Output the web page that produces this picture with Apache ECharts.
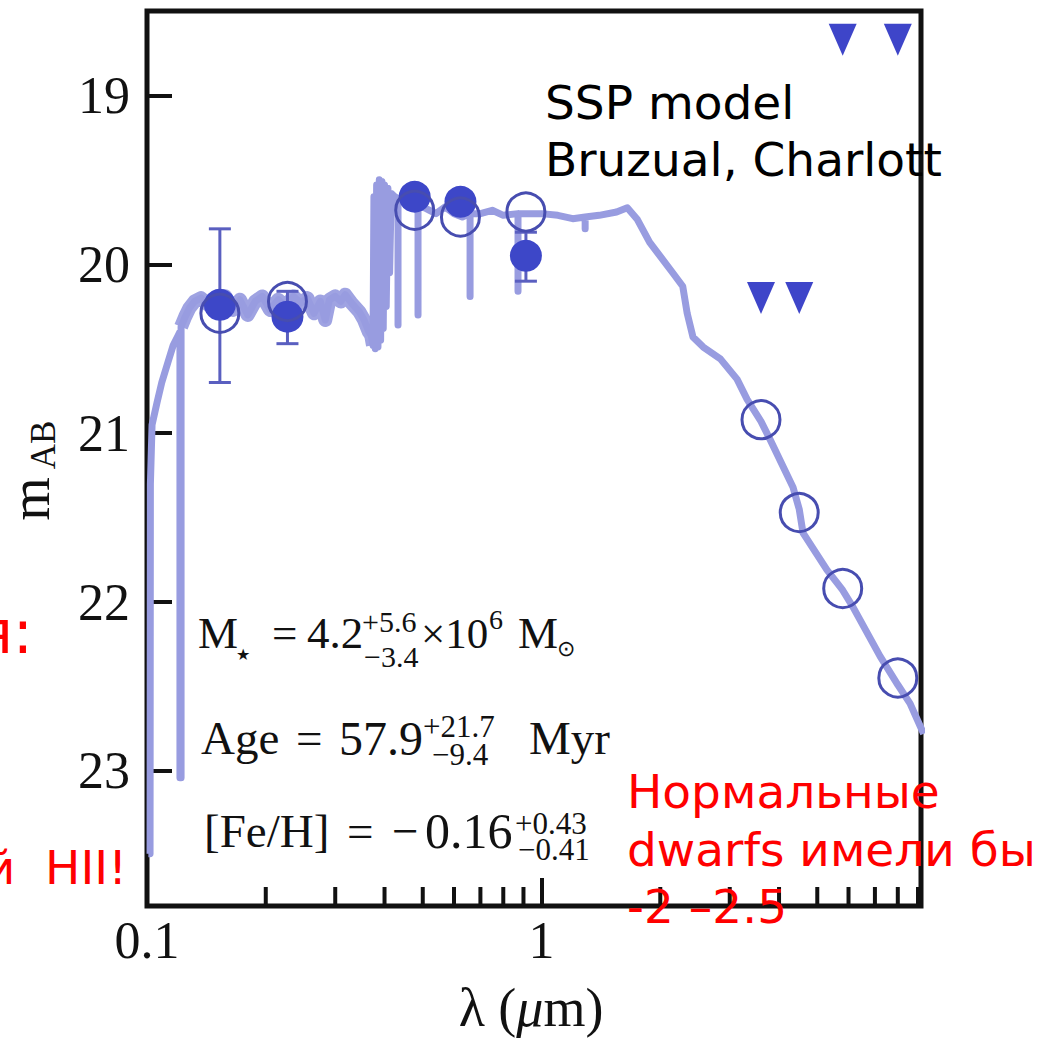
<!DOCTYPE html>
<html>
<head>
<meta charset="utf-8">
<script src="https://cdn.jsdelivr.net/npm/echarts@6/dist/echarts.min.js"></script>
<style>
html, body { margin: 0; padding: 0; background: #fff; }
#main { width: 1056px; height: 1038px; }
</style>
</head>
<body>
<div id="main"></div>
<script>
// model SED (SSP, Bruzual & Charlot), wavelength in micron / AB mag
var specLam = [0.1008, 0.1018, 0.1020, 0.1030, 0.1060, 0.1090, 0.1130, 0.1165, 0.1200, 0.1212, 0.1212, 0.1220, 0.1220,
  0.1250, 0.1280, 0.1320, 0.1370, 0.1430, 0.1500, 0.1580, 0.1650, 0.1720, 0.1800, 0.1880, 0.1960, 0.2050,
  0.2150, 0.2250, 0.2350, 0.2450, 0.2550, 0.2650, 0.2750, 0.2830, 0.2900, 0.3000, 0.3100, 0.3180, 0.3300,
  0.3450, 0.3550, 0.3650, 0.3700, 0.3740, 0.3760, 0.3790, 0.3820, 0.3850, 0.3880, 0.3910, 0.3940, 0.3970,
  0.4000, 0.4040, 0.4080, 0.4120, 0.4160, 0.4250, 0.4328, 0.4328, 0.4328, 0.4500, 0.4700, 0.4864, 0.4864,
  0.4864, 0.5100, 0.5400, 0.5700, 0.6000, 0.6300, 0.6590, 0.6590, 0.6590, 0.7000, 0.7500, 0.8000, 0.8718,
  0.8718, 0.8718, 0.9300, 1.0000, 1.1000, 1.2000, 1.2900, 1.2900, 1.2900, 1.4000, 1.5500, 1.6500, 1.7500,
  1.8800, 2.1500, 2.2800, 2.3400, 2.4200, 2.5700, 2.8400, 3.1300, 3.3200, 3.6000, 3.8000, 4.3400, 4.5000,
  4.6000, 5.2900, 5.8000, 6.1600, 7.2100, 8.0000, 8.5900, 9.3000];
var specMag = [23.49, 23.49, 21.30, 20.95, 20.82, 20.70, 20.58, 20.48, 20.42, 20.40, 23.04, 23.04, 20.37,
  20.31, 20.26, 20.22, 20.20, 20.24, 20.21, 20.19, 20.27, 20.21, 20.30, 20.22, 20.19, 20.27,
  20.21, 20.25, 20.19, 20.23, 20.20, 20.29, 20.22, 20.33, 20.21, 20.19, 20.22, 20.18, 20.23,
  20.28, 20.33, 20.40, 20.42, 20.48, 19.60, 20.50, 19.53, 20.49, 19.50, 20.45, 19.51, 20.38,
  19.53, 20.25, 19.55, 20.05, 19.58, 19.60, 19.61, 20.36, 19.61, 19.62, 19.64, 19.65, 20.30,
  19.65, 19.67, 19.70, 19.66, 19.70, 19.72, 19.70, 20.19, 19.70, 19.70, 19.68, 19.71, 19.70,
  20.16, 19.70, 19.70, 19.70, 19.71, 19.73, 19.72, 19.79, 19.72, 19.71, 19.69, 19.665, 19.735,
  19.87, 20.05, 20.13, 20.29, 20.43, 20.49, 20.56, 20.68, 20.80, 20.93, 21.04, 21.32, 21.45,
  21.59, 21.81, 21.93, 22.03, 22.32, 22.49, 22.60, 22.78];
// the UV part of the model is drawn as a wider band
var uvBandEnd = 0.3740;

// observed photometry (filled circles)
var obsLam = [0.153, 0.227, 0.477, 0.623, 0.913];
var obsMag = [20.24, 20.31, 19.60, 19.63, 19.95];
// error bars
var errLam = [0.153, 0.227, 0.913];
var errLo = [19.79, 20.16, 19.81];
var errHi = [20.70, 20.47, 20.10];
// model photometry (open circles)
var modelLam = [0.153, 0.227, 0.477, 0.623, 0.913, 3.6, 4.5, 5.8, 8.0];
var modelMag = [20.29, 20.22, 19.68, 19.72, 19.69, 20.92, 21.47, 21.92, 22.45];
// upper limits (triangles)
var limLam = [3.6, 4.5, 5.8, 8.0];
var limMag = [20.20, 20.20, 18.67, 18.67];
// x minor ticks
var minorTicks = [0.2, 0.3, 0.4, 0.5, 0.6, 0.7, 0.8, 0.9, 2, 3, 4, 5, 6, 7, 8, 9];
var xTickLabels = ['0.1', '1'];

var SERIF = 'Liberation Serif';
var SANS = 'DejaVu Sans';

function pairs(a, b) {
  return a.map(function (v, i) { return [v, b[i]]; });
}

// text helper for annotations
function txt(x, y, s, size, opts) {
  opts = opts || {};
  return {
    type: 'text',
    x: x,
    y: y,
    rotation: opts.rotation || 0,
    z: 100,
    style: {
      text: s,
      fontSize: size,
      fontFamily: opts.family || SERIF,
      fontStyle: opts.italic ? 'italic' : 'normal',
      fill: opts.color || '#111',
      align: opts.align || 'left',
      textAlign: opts.align || 'left',
      verticalAlign: 'middle',
      textVerticalAlign: 'middle',
      rich: opts.rich
    }
  };
}

var uvBand = pairs(specLam, specMag).filter(function (p, i) {
  return specLam[i] >= 0.1220 && specLam[i] <= uvBandEnd && i > 11;
});

var myChart = echarts.init(document.getElementById('main'), null, { renderer: 'svg' });

var option = {
  animation: false,
  backgroundColor: '#fff',
  grid: {
    left: 147,
    top: 11,
    width: 774,
    height: 895,
    show: true,
    borderColor: '#111',
    borderWidth: 5,
    containLabel: false,
    outerBoundsMode: 'none'
  },
  xAxis: {
    type: 'log',
    logBase: 10,
    min: 0.1,
    max: 9.16,
    axisLine: { show: false },
    splitLine: { show: false },
    axisTick: { show: true, inside: true, length: 28, lineStyle: { color: '#111', width: 4 } },
    axisLabel: {
      margin: 8,
      fontSize: 52,
      fontFamily: SERIF,
      color: '#111',
      showMaxLabel: false,
      formatter: function (v) {
        if (Math.abs(v - 0.1) < 1e-6) return xTickLabels[0];
        if (Math.abs(v - 1) < 1e-6) return xTickLabels[1];
        return '';
      }
    }
  },
  yAxis: {
    type: 'value',
    inverse: true,
    min: 18.5,
    max: 23.8,
    minInterval: 1,
    maxInterval: 1,
    axisLine: { show: false },
    splitLine: { show: false },
    axisTick: { show: true, inside: true, length: 25, lineStyle: { color: '#111', width: 4 } },
    axisLabel: {
      margin: 17,
      fontSize: 52,
      fontFamily: SERIF,
      color: '#111',
      formatter: function (v) {
        return Math.abs(v - Math.round(v)) < 1e-6 ? String(Math.round(v)) : '';
      }
    }
  },
  series: [
    {
      name: 'spectrum band',
      type: 'line',
      data: uvBand,
      showSymbol: false,
      symbol: 'none',
      lineStyle: { color: '#9fa3e2', width: 14, join: 'round' },
      z: 1
    },
    {
      name: 'spectrum',
      type: 'line',
      data: pairs(specLam, specMag),
      showSymbol: false,
      symbol: 'none',
      lineStyle: { color: '#989ce0', width: 7, join: 'round' },
      z: 2
    },
    {
      name: 'errors',
      type: 'custom',
      data: errLam.map(function (l, i) { return [l, errLo[i], errHi[i]]; }),
      encode: { x: 0, y: [1, 2] },
      z: 3,
      renderItem: function (params, api) {
        var top = api.coord([api.value(0), api.value(1)]);
        var bot = api.coord([api.value(0), api.value(2)]);
        var hw = 11;
        var st = { stroke: '#5a5fc0', lineWidth: 3 };
        return {
          type: 'group',
          children: [
            { type: 'line', shape: { x1: top[0], y1: top[1], x2: bot[0], y2: bot[1] }, style: st },
            { type: 'line', shape: { x1: top[0] - hw, y1: top[1], x2: top[0] + hw, y2: top[1] }, style: st },
            { type: 'line', shape: { x1: bot[0] - hw, y1: bot[1], x2: bot[0] + hw, y2: bot[1] }, style: st }
          ]
        };
      }
    },
    {
      name: 'observed',
      type: 'scatter',
      data: pairs(obsLam, obsMag),
      symbol: 'circle',
      symbolSize: 32,
      itemStyle: { color: '#3d47c8', opacity: 1 },
      z: 4
    },
    {
      name: 'model',
      type: 'scatter',
      data: pairs(modelLam, modelMag),
      symbol: 'circle',
      symbolSize: 38,
      itemStyle: { color: 'rgba(0,0,0,0)', borderColor: '#474db0', borderWidth: 3, opacity: 1 },
      z: 5
    },
    {
      name: 'limits',
      type: 'scatter',
      data: pairs(limLam, limMag),
      symbol: 'triangle',
      symbolRotate: 180,
      symbolSize: [28, 32],
      itemStyle: { color: '#3e45c9', opacity: 1 },
      z: 5
    },
    {
      name: 'minorTicks',
      type: 'custom',
      data: minorTicks.map(function (v) { return [v, 23.8]; }),
      encode: { x: 0, y: 1 },
      clip: false,
      z: 10,
      renderItem: function (params, api) {
        var p = api.coord([api.value(0), api.value(1)]);
        return {
          type: 'line',
          shape: { x1: p[0], y1: p[1], x2: p[0], y2: p[1] - 19 },
          style: { stroke: '#111', lineWidth: 4 }
        };
      }
    }
  ],
  graphic: [
    // axis names
    txt(531, 1008, '{n|λ (}{i|μ}{n|m)}', 54, {
      align: 'center',
      rich: {
        n: { fontSize: 54, fontFamily: SERIF, color: '#111' },
        i: { fontSize: 54, fontFamily: SERIF, fontStyle: 'italic', color: '#111' }
      }
    }),
    txt(30, 499, 'm', 56, { align: 'center', rotation: Math.PI / 2 }),
    txt(43, 445, 'AB', 35, { align: 'center', rotation: Math.PI / 2 }),

    // model note
    txt(545, 102, 'SSP model', 47, { family: SANS, color: '#000' }),
    txt(545, 159, 'Bruzual, Charlott', 47, { family: SANS, color: '#000' }),

    // fit results
    txt(198, 633, 'M', 45),
    txt(236, 654, '★', 16),
    txt(272, 633, '=', 45),
    txt(307, 633, '4.2', 45),
    txt(362, 621, '+5.6', 30),
    txt(364, 656, '−3.4', 30),
    txt(421, 633, '×10', 43),
    txt(489, 619, '6', 28),
    txt(518, 633, 'M', 45),
    txt(557, 648, '⊙', 22),

    txt(201, 738, 'Age', 47),
    txt(296, 738, '=', 47),
    txt(339, 738, '57.9', 48),
    txt(423, 726, '+21.7', 31),
    txt(432, 754, '−9.4', 31),
    txt(529, 738, 'Myr', 47),

    txt(204, 831, '[Fe/H]', 47),
    txt(347, 831, '=', 47),
    txt(392, 831, '−', 47),
    txt(425, 831, '0.16', 50),
    txt(515, 823, '+0.43', 31),
    txt(518, 849, '−0.41', 31),

    // red notes
    txt(627, 791, 'Нормальные', 47, { family: SANS, color: '#ff0000' }),
    txt(627, 849, 'dwarfs имели бы', 47, { family: SANS, color: '#ff0000' }),
    txt(627, 906, '-2 –2.5', 47, { family: SANS, color: '#ff0000' }),
    txt(33, 632, 'я:', 60, { family: SANS, color: '#ff0000', align: 'right' }),
    txt(127, 867, 'й  HII!', 47, { family: SANS, color: '#ff0000', align: 'right' })
  ]
};

myChart.setOption(option);
</script>
</body>
</html>
